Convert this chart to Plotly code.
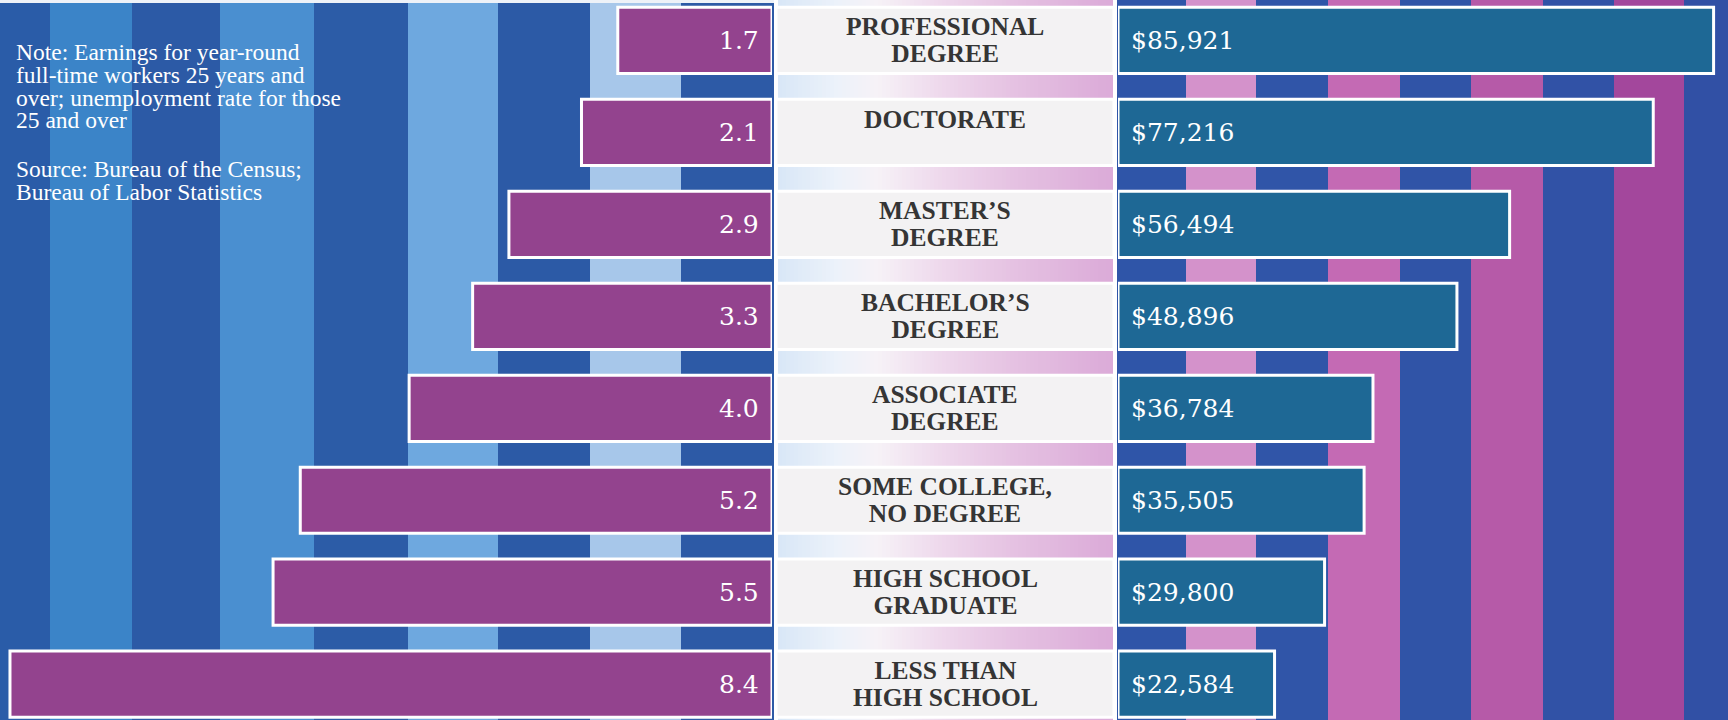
import plotly.graph_objects as go

# data
levels = ["PROFESSIONAL<br>DEGREE", "DOCTORATE", "MASTER’S<br>DEGREE", "BACHELOR’S<br>DEGREE",
          "ASSOCIATE<br>DEGREE", "SOME COLLEGE,<br>NO DEGREE", "HIGH SCHOOL<br>GRADUATE",
          "LESS THAN<br>HIGH SCHOOL"]
unemployment = [1.7, 2.1, 2.9, 3.3, 4.0, 5.2, 5.5, 8.4]
earnings = [85921, 77216, 56494, 48896, 36784, 35505, 29800, 22584]

note_lines = ["Note: Earnings for year-round", "full-time workers 25 years and",
              "over; unemployment rate for those", "25 and over"]
source_lines = ["Source: Bureau of the Census;", "Bureau of Labor Statistics"]

W, H = 1728, 720
MAGENTA = "#93438e"
TEAL = "#1e6895"

# background stripes (pixel edges, colours)
left_edges = [0, 50, 132, 220, 314, 408, 498, 590, 681, 774]
left_cols = ["#2a5ca8", "#3b84c8", "#2c5aa6", "#4a8fd0", "#2c5ca7", "#6ea8df", "#2c5aa6", "#a7c7ea", "#2d5aa6"]
right_edges = [1117, 1186, 1256, 1328, 1400, 1471, 1543, 1614, 1684, 1728]
right_cols = ["#2f55a8", "#d492cb", "#3055a8", "#c46ab4", "#3054a7", "#b65aa8", "#3152a6", "#a3479c", "#3150a5"]
grad_stops = [(778, (217, 231, 247)), (835, (236, 242, 250)), (875, (246, 242, 247)),
              (940, (238, 216, 236)), (1010, (229, 194, 226)), (1113, (219, 170, 216))]

shapes = []


def rect(x0, x1, color, y0=0, y1=H):
    shapes.append(dict(type="rect", xref="paper", yref="paper", layer="below",
                       x0=x0 / W, x1=x1 / W, y0=1 - y1 / H, y1=1 - y0 / H,
                       fillcolor=color, line_width=0))


for i, c in enumerate(left_cols):
    rect(left_edges[i], left_edges[i + 1], c)
for i, c in enumerate(right_cols):
    rect(right_edges[i], right_edges[i + 1], c)
rect(0, 774, "#eef2f8", 0, 3)  # thin light edge along the top

# centre gradient in thin slices
step = 4
x = grad_stops[0][0]
while x < grad_stops[-1][0]:
    for (a, ca), (b, cb) in zip(grad_stops[:-1], grad_stops[1:]):
        if a <= x < b:
            t = (x - a) / (b - a)
            col = tuple(round(ca[k] + (cb[k] - ca[k]) * t) for k in range(3))
            break
    rect(x, min(x + step, grad_stops[-1][0]), "rgb(%d,%d,%d)" % col)
    x += step


def tight(lines, size):
    # big glyphs on a smaller base font -> tight leading, as in the print original
    return "<br>".join(f"<span style='font-size:{size}px'>{s}</span>" for s in lines)


fig = go.Figure()

fig.add_trace(go.Bar(x=unemployment, y=levels, orientation="h", width=0.72,
                     marker=dict(color=MAGENTA, line=dict(color="white", width=3)),
                     xaxis="x", yaxis="y", hoverinfo="x"))
fig.add_trace(go.Bar(x=earnings, y=levels, orientation="h", width=0.72,
                     marker=dict(color=TEAL, line=dict(color="white", width=3)),
                     xaxis="x2", yaxis="y", hoverinfo="x"))
fig.add_trace(go.Bar(x=[1] * len(levels), y=levels, orientation="h", width=0.72,
                     marker=dict(color="#f3f2f3", line=dict(color="white", width=3)),
                     xaxis="x3", yaxis="y", hoverinfo="skip"))

annotations = []
for lvl, u, e in zip(levels, unemployment, earnings):
    annotations.append(dict(x=0, y=lvl, xref="x", yref="y", text=f"{u:.1f}", showarrow=False,
                            xanchor="right", xshift=-11,
                            font=dict(family="DejaVu Serif", size=25, color="white")))
    annotations.append(dict(x=0, y=lvl, xref="x2", yref="y", text=f"${e:,}", showarrow=False,
                            xanchor="left", xshift=11,
                            font=dict(family="DejaVu Serif", size=25, color="white")))
    lines = lvl.split("<br>")
    annotations.append(dict(x=0.5, y=lvl, xref="x3", yref="y", text=tight(lines, 25.5),
                            showarrow=False, xanchor="center", yanchor="middle",
                            yshift=13 if len(lines) == 1 else 0,
                            font=dict(family="Liberation Serif", size=20.5, color="#353535",
                                      weight="bold")))

for ypx, lines in [(86, note_lines), (180, source_lines)]:
    annotations.append(dict(x=14 / W, y=1 - ypx / H, xref="paper", yref="paper",
                            text=tight(lines, 23.5), showarrow=False, align="left",
                            xanchor="left", yanchor="middle",
                            font=dict(family="Liberation Serif", size=17.5, color="white")))

fig.update_layout(
    width=W, height=H,
    margin=dict(l=0, r=0, t=0, b=0),
    paper_bgcolor="white", plot_bgcolor="rgba(0,0,0,0)",
    showlegend=False, barmode="overlay",
    shapes=shapes, annotations=annotations,
    xaxis=dict(domain=[0, 772 / W], range=[8.51, 0], visible=False, fixedrange=True),
    xaxis2=dict(domain=[1118 / W, 1], range=[0, 88000], anchor="y", visible=False, fixedrange=True),
    xaxis3=dict(domain=[776 / W, 1114 / W], range=[0, 1], anchor="y", visible=False, fixedrange=True),
    yaxis=dict(categoryorder="array", categoryarray=levels, range=[7.39, -0.44],
               visible=False, fixedrange=True),
)

fig.write_html("out.html", config={"displayModeBar": False},
               post_script="document.body.style.margin='0';")
